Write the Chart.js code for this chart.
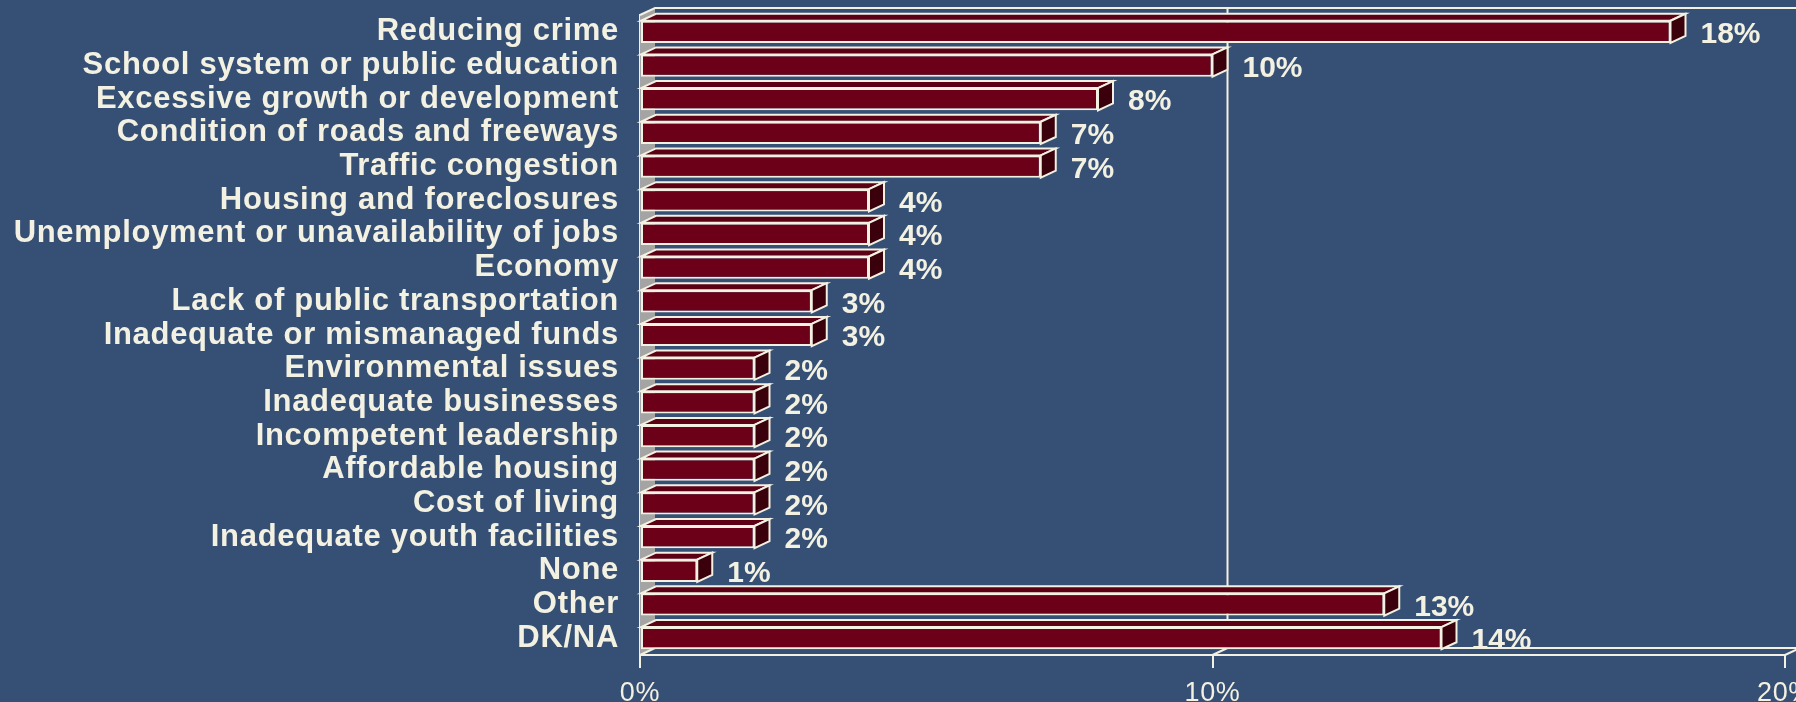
<!DOCTYPE html>
<html>
<head>
<meta charset="utf-8">
<title>Most important problem</title>
<style>
  html, body { margin: 0; padding: 0; background: #364F74; overflow: hidden; }
  #wrap { width: 1796px; height: 702px; }
</style>
<script src="https://cdn.jsdelivr.net/npm/chart.js@4.4.1/dist/chart.umd.min.js"></script>
</head>
<body>
<div id="wrap"><canvas id="chart" width="1796" height="702"></canvas></div>
<script>
// Survey answers, top to bottom
const categories = [
  'Reducing crime',
  'School system or public education',
  'Excessive growth or development',
  'Condition of roads and freeways',
  'Traffic congestion',
  'Housing and foreclosures',
  'Unemployment or unavailability of jobs',
  'Economy',
  'Lack of public transportation',
  'Inadequate or mismanaged funds',
  'Environmental issues',
  'Inadequate businesses',
  'Incompetent leadership',
  'Affordable housing',
  'Cost of living',
  'Inadequate youth facilities',
  'None',
  'Other',
  'DK/NA'
];
// Percent of respondents
const shares = [18, 10, 8, 7, 7, 4, 4, 4, 3, 3, 2, 2, 2, 2, 2, 2, 1, 13, 14];
// Value axis: 0% .. 20% in steps of 10
const axisMin = 0;
const axisMax = 20;
const axisStep = 10;

const FACE = '#6C0019';
const TOP_FACE = '#5B0015';
const SIDE_FACE = '#3A000C';
const EDGE = '#F3F1E2';
const WALL = '#A4A4A4';
const TEXT = '#F3F1E2';
const DX = 15;   // depth offset to the right
const DY = -7;   // depth offset upwards

function poly(ctx, pts) {
  ctx.beginPath();
  ctx.moveTo(pts[0][0], pts[0][1]);
  for (let i = 1; i < pts.length; i++) ctx.lineTo(pts[i][0], pts[i][1]);
  ctx.closePath();
  ctx.fill();
  ctx.stroke();
}

// Walls, floor and the extruded faces of each bar
const depthPlugin = {
  id: 'depth',
  beforeDraw(chart) {
    chart.ctx.letterSpacing = '0.7px';
  },
  beforeDatasetsDraw(chart) {
    const { ctx, chartArea: a, scales: { x } } = chart;
    ctx.save();
    ctx.letterSpacing = '0px';
    ctx.lineWidth = 2;
    ctx.strokeStyle = EDGE;
    // side wall on the left
    ctx.fillStyle = WALL;
    ctx.beginPath();
    ctx.moveTo(a.left, a.top);
    ctx.lineTo(a.left + DX, a.top + DY);
    ctx.lineTo(a.left + DX, a.bottom + DY);
    ctx.lineTo(a.left, a.bottom);
    ctx.closePath();
    ctx.fill();
    // top edge of the walls
    ctx.beginPath();
    ctx.moveTo(a.left, a.top);
    ctx.lineTo(a.left + DX, a.top + DY);
    ctx.lineTo(chart.width + 5, a.top + DY);
    ctx.stroke();
    // back edge of the floor
    ctx.beginPath();
    ctx.moveTo(a.left + DX, a.bottom + DY);
    ctx.lineTo(chart.width + 5, a.bottom + DY);
    ctx.stroke();
    // gridlines on the back wall and depth lines on the floor
    x.ticks.forEach(t => {
      const px = x.getPixelForValue(t.value);
      if (t.value > axisMin) {
        ctx.beginPath();
        ctx.moveTo(px + DX, a.top + DY);
        ctx.lineTo(px + DX, a.bottom + DY);
        ctx.stroke();
      }
      ctx.beginPath();
      ctx.moveTo(px, a.bottom);
      ctx.lineTo(px + DX, a.bottom + DY);
      ctx.stroke();
    });
    ctx.restore();
  },
  afterDatasetsDraw(chart) {
    const ctx = chart.ctx;
    const meta = chart.getDatasetMeta(0);
    ctx.save();
    ctx.letterSpacing = '0px';
    ctx.lineWidth = 2;
    ctx.strokeStyle = EDGE;
    ctx.lineJoin = 'miter';
    meta.data.forEach(bar => {
      const p = bar.getProps(['x', 'y', 'base', 'height'], true);
      const l = p.base, r = p.x;
      const t = p.y - p.height / 2, b = p.y + p.height / 2;
      ctx.fillStyle = TOP_FACE;
      poly(ctx, [[l, t], [l + DX, t + DY], [r + DX, t + DY], [r, t]]);
      ctx.fillStyle = SIDE_FACE;
      poly(ctx, [[r, t], [r + DX, t + DY], [r + DX, b + DY], [r, b]]);
    });
    // value labels
    ctx.font = 'bold 30px "Liberation Sans", Arial, sans-serif';
    ctx.fillStyle = TEXT;
    ctx.textAlign = 'left';
    ctx.textBaseline = 'middle';
    meta.data.forEach((bar, i) => {
      ctx.fillText(shares[i] + '%', bar.x + 30, bar.y + 3);
    });
    ctx.restore();
  },
  afterDraw(chart) {
    chart.ctx.letterSpacing = '0px';
  }
};

Chart.defaults.font.family = '"Liberation Sans", Arial, sans-serif';
Chart.defaults.color = TEXT;

new Chart(document.getElementById('chart'), {
  type: 'bar',
  data: {
    labels: categories,
    datasets: [{
      data: shares,
      backgroundColor: FACE,
      borderColor: EDGE,
      borderWidth: 2,
      borderSkipped: false,
      barPercentage: 0.66,
      categoryPercentage: 1.0
    }]
  },
  options: {
    indexAxis: 'y',
    responsive: false,
    animation: false,
    devicePixelRatio: 1,
    layout: { padding: { top: 15, right: 11, left: 0, bottom: 0 } },
    plugins: {
      legend: { display: false },
      tooltip: { enabled: false }
    },
    scales: {
      x: {
        type: 'linear',
        min: axisMin,
        max: axisMax,
        afterFit(scale) {
          scale.height = 47;
          scale.paddingLeft = 0;
          scale.paddingRight = 0;
        },
        grid: {
          drawOnChartArea: false,
          drawTicks: true,
          tickLength: 13,
          color: EDGE,
          lineWidth: 2
        },
        border: { display: true, color: EDGE, width: 2 },
        ticks: {
          stepSize: axisStep,
          autoSkip: false,
          maxRotation: 0,
          padding: 9,
          color: TEXT,
          font: { size: 27 },
          callback: v => v + '%'
        }
      },
      y: {
        type: 'category',
        afterFit(scale) {
          scale.width = 640;
          scale.paddingTop = 0;
          scale.paddingBottom = 0;
        },
        grid: { display: false, drawTicks: false },
        border: { display: true, color: EDGE, width: 2 },
        ticks: {
          padding: 21,
          autoSkip: false,
          color: TEXT,
          font: { size: 31, weight: 'bold' }
        }
      }
    }
  },
  plugins: [depthPlugin]
});
</script>
</body>
</html>
